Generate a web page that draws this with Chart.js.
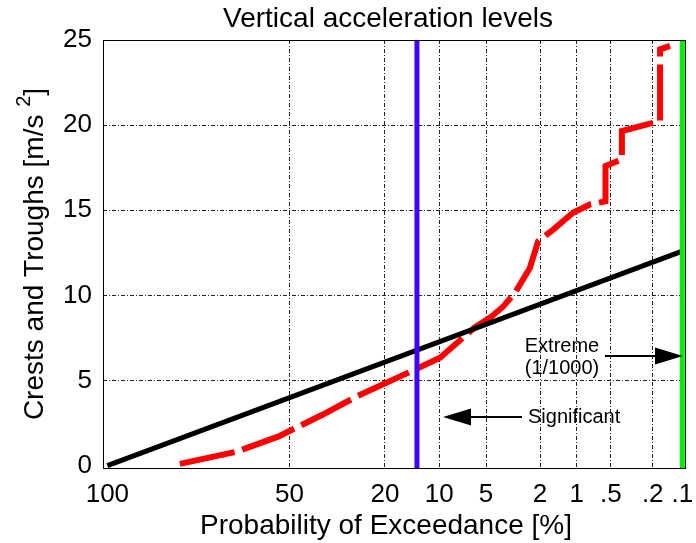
<!DOCTYPE html>
<html>
<head>
<meta charset="utf-8">
<title>Vertical acceleration levels</title>
<script src="https://cdn.jsdelivr.net/npm/chart.js@4.4.1/dist/chart.umd.min.js"></script>
<style>
  body { margin: 0; background: #fff; }
  canvas { display: block; }
</style>
</head>
<body>
<canvas id="accelChart" width="696" height="543"></canvas>
<script>
// probability of exceedance in %, x axis is a Rayleigh scale
const probTicks = [100, 50, 20, 10, 5, 2, 1, 0.5, 0.2, 0.1];
const probLabels = ['100', '50', '20', '10', '5', '2', '1', '.5', '.2', '.1'];
const accelTicks = [0, 5, 10, 15, 20, 25];

// measured crests and troughs (red dashed)
const measuredProb = [89.6, 70.5, 54.4, 37.9, 27.3, 13.9, 9.9, 6.0, 4.57, 3.78, 3.11, 2.4, 2.07, 1.57, 1.08, 0.77, 0.56, 0.56, 0.396, 0.396, 0.169, 0.169, 0.134];
const measuredAccel = [0.1, 0.82, 1.7, 3.0, 4.06, 5.63, 6.33, 8.1, 8.76, 9.35, 10.14, 11.61, 13.18, 13.86, 14.85, 15.34, 15.53, 17.6, 17.98, 19.65, 20.24, 24.45, 24.65];

// Rayleigh fit (black)
const rayleighProb = [100, 0.1];
const rayleighAccel = [0, 12.6];

const significantProb = 13.5;   // 1/e^2
const extremeProb = 0.1;        // 1/1000

const xMin = -0.02, xMax = 2.645;
const yMin = -0.2, yMax = 25;

const FONT = "'Liberation Sans', Arial, Helvetica, sans-serif";

function toAxis(p) {
  return Math.sqrt(-Math.log(p / 100));
}

function pairUp(probs, vals) {
  return probs.map((p, i) => ({ x: toAxis(p), y: vals[i] }));
}

const textPlugin = {
  id: 'textPlugin',
  afterDraw(chart) {
    const c = chart.ctx, a = chart.chartArea;
    c.save();
    // box round the axes
    c.strokeStyle = '#000';
    c.lineWidth = 1;
    c.strokeRect(a.left + 0.5, a.top + 0.5, a.right - a.left - 1, a.bottom - a.top - 1);

    c.fillStyle = '#000';
    c.textAlign = 'center';
    c.textBaseline = 'alphabetic';
    c.font = '28px ' + FONT;
    c.fillText('Vertical acceleration levels', 388, 27);
    c.fillText('Probability of Exceedance [%]', 386, 534);

    // y label with superscript
    c.save();
    c.translate(43, 254);
    c.rotate(-Math.PI / 2);
    c.textAlign = 'left';
    const main = 'Crests and Troughs [m/s ';
    c.font = '28px ' + FONT;
    const w1 = c.measureText(main).width;
    const w3 = c.measureText(']').width;
    c.font = '20px ' + FONT;
    const w2 = c.measureText('2').width;
    let x0 = -(w1 + w2 + w3) / 2;
    c.font = '28px ' + FONT;
    c.fillText(main, x0, 0);
    c.font = '20px ' + FONT;
    c.fillText('2', x0 + w1, -13);
    c.font = '28px ' + FONT;
    c.fillText(']', x0 + w1 + w2, 0);
    c.restore();

    // annotations
    c.font = '20px ' + FONT;
    c.textBaseline = 'middle';
    c.textAlign = 'center';
    c.fillText('Extreme', 562, 346);
    c.fillText('(1/1000)', 562, 368);
    c.textAlign = 'left';
    c.fillText('Significant', 528, 417);

    c.lineWidth = 2;
    c.beginPath();
    c.moveTo(605, 356); c.lineTo(660, 356);
    c.moveTo(470, 417); c.lineTo(522, 417);
    c.stroke();
    c.beginPath();
    c.moveTo(683, 356); c.lineTo(655, 347.5); c.lineTo(655, 364.5); c.closePath();
    c.moveTo(443, 417); c.lineTo(471, 408.5); c.lineTo(471, 425.5); c.closePath();
    c.fill();
    c.restore();
  }
};

document.addEventListener('DOMContentLoaded', function () {
  const ctx = document.getElementById('accelChart').getContext('2d');
  const accelChart = new Chart(ctx, {
    type: 'scatter',
    data: {
      datasets: [
        {
          label: 'Extreme',
          data: [{ x: toAxis(extremeProb), y: yMin }, { x: toAxis(extremeProb), y: yMax }],
          showLine: true,
          borderColor: '#00ee00',
          borderWidth: 5,
          pointRadius: 0,
          order: 1
        },
        {
          label: 'Significant',
          data: [{ x: toAxis(significantProb), y: yMin }, { x: toAxis(significantProb), y: yMax }],
          showLine: true,
          borderColor: '#3f00ff',
          borderWidth: 5,
          pointRadius: 0,
          order: 2
        },
        {
          label: 'Rayleigh',
          data: pairUp(rayleighProb, rayleighAccel),
          showLine: true,
          borderColor: '#000000',
          borderWidth: 5,
          pointRadius: 0,
          order: 3
        },
        {
          label: 'Measured',
          data: pairUp(measuredProb, measuredAccel),
          showLine: true,
          borderColor: '#ff0000',
          borderWidth: 6,
          borderDash: [56, 8],
          borderCapStyle: 'butt',
          pointRadius: 0,
          tension: 0,
          order: 4
        }
      ]
    },
    options: {
      responsive: false,
      animation: false,
      devicePixelRatio: 1,
      layout: { padding: { top: 40, right: 10, left: 0, bottom: 0 } },
      scales: {
        x: {
          type: 'linear',
          min: xMin,
          max: xMax,
          afterBuildTicks: function (scale) {
            scale.ticks = probTicks.map(p => ({ value: toAxis(p) }));
          },
          afterFit: function (scale) {
            scale.height = 74;
            scale.paddingLeft = 0;
            scale.paddingRight = 0;
          },
          ticks: {
            autoSkip: false,
            maxRotation: 0,
            minRotation: 0,
            padding: 10,
            color: '#000',
            font: { size: 26, family: FONT },
            callback: function (value, index) { return probLabels[index]; }
          },
          grid: {
            drawTicks: false,
            lineWidth: 1,
            color: ctx => ctx.index === 0 ? 'rgba(0,0,0,0)' : '#222'
          },
          border: { display: false, dash: [4, 2, 1, 2] }
        },
        y: {
          type: 'linear',
          min: yMin,
          max: yMax,
          afterBuildTicks: function (scale) {
            scale.ticks = accelTicks.map(v => ({ value: v }));
          },
          afterFit: function (scale) {
            scale.width = 103;
            scale.paddingTop = 0;
            scale.paddingBottom = 0;
          },
          ticks: {
            padding: 11,
            color: '#000',
            font: { size: 26, family: FONT }
          },
          grid: {
            drawTicks: false,
            lineWidth: 1,
            color: ctx => ctx.index === 0 ? 'rgba(0,0,0,0)' : '#222'
          },
          border: { display: false, dash: [4, 2, 1, 2] }
        }
      },
      plugins: {
        legend: { display: false },
        title: { display: false },
        tooltip: { enabled: false }
      }
    },
    plugins: [textPlugin]
  });
});
</script>
</body>
</html>
